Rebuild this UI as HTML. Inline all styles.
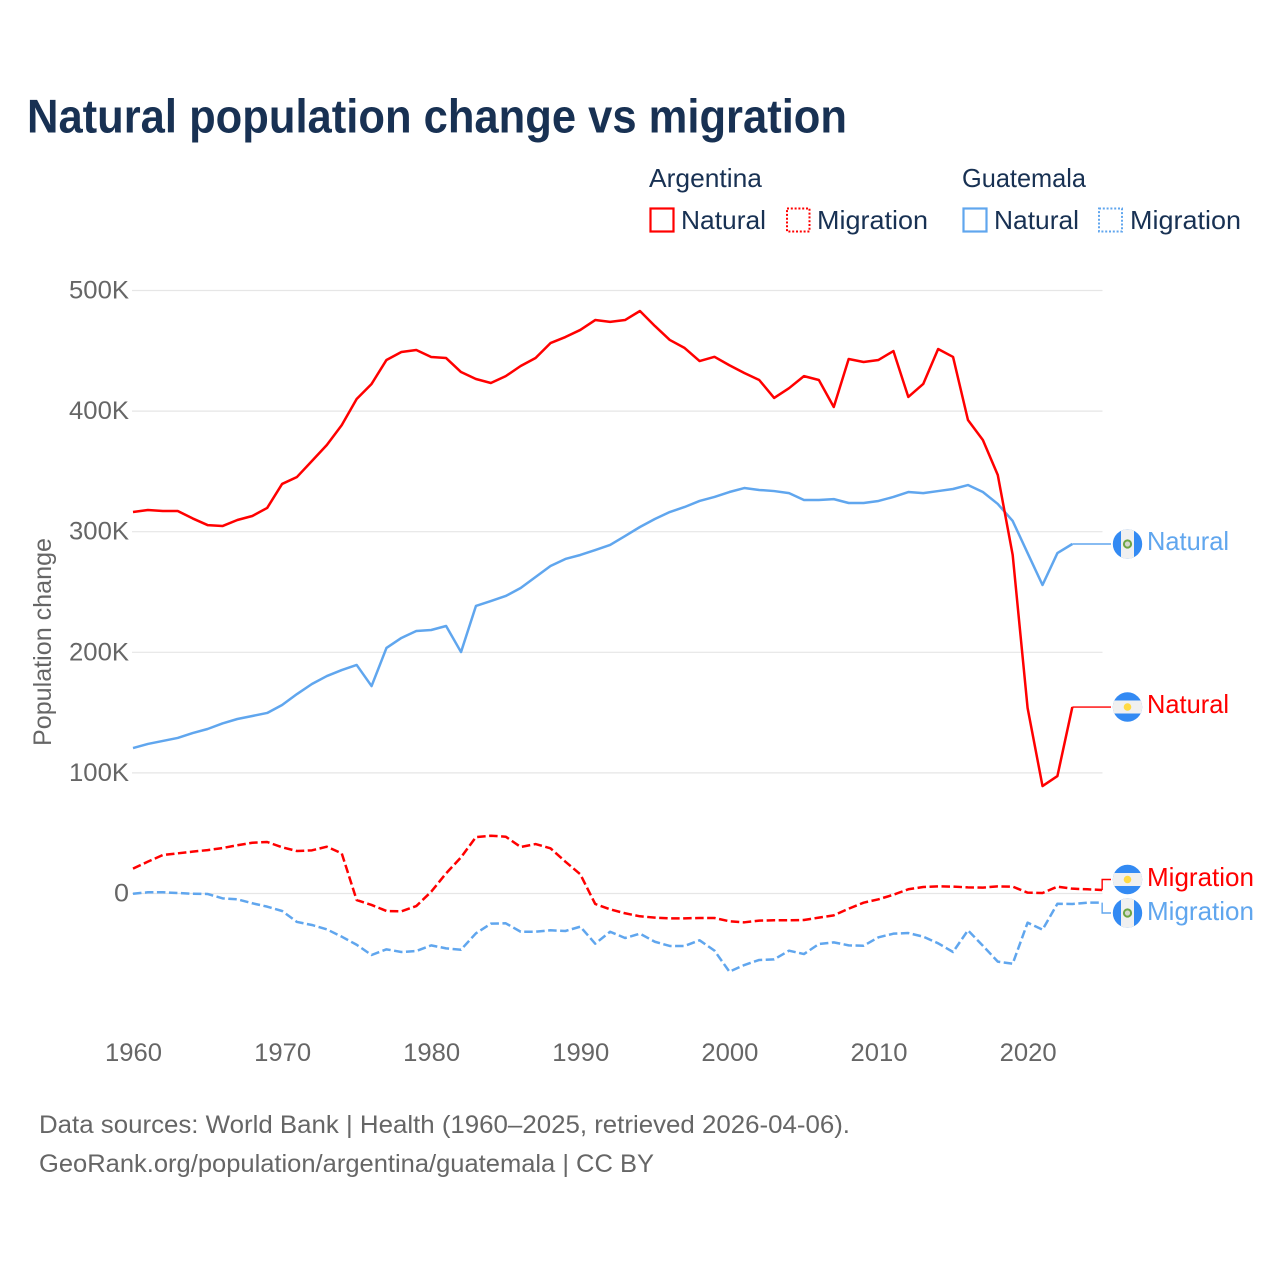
<!DOCTYPE html>
<html lang="en">
<head>
<meta charset="utf-8">
<title>Natural population change vs migration</title>
<style>
html,body{margin:0;padding:0;background:#fff;width:1280px;height:1280px;overflow:hidden}
svg{display:block;font-family:"Liberation Sans",sans-serif}
</style>
</head>
<body>
<svg id="chart" xmlns="http://www.w3.org/2000/svg" width="1280" height="1280" viewBox="0 0 1280 1280">
  <defs>
    <clipPath id="flag-clip"><circle r="14.7"/></clipPath>
  </defs>
  <rect width="1280" height="1280" fill="#fff"/>
  <text x="27" y="132.5" font-size="47" font-weight="700" fill="#183153" textLength="820" lengthAdjust="spacingAndGlyphs">Natural population change vs migration</text>

  <g font-size="26" fill="#183153">
    <text x="649" y="187" textLength="113" lengthAdjust="spacingAndGlyphs">Argentina</text>
    <text x="962" y="187" textLength="124" lengthAdjust="spacingAndGlyphs">Guatemala</text>
    <g>
      <rect x="650.5" y="208.5" width="23" height="23" fill="none" stroke="#ff0000" stroke-width="2.2"/>
      <text x="681" y="229" textLength="85" lengthAdjust="spacingAndGlyphs">Natural</text>
    </g>
    <g>
      <rect x="787" y="208.5" width="22.5" height="23" fill="none" stroke="#ff0000" stroke-width="2" stroke-dasharray="2 1.8"/>
      <text x="817" y="229" textLength="111" lengthAdjust="spacingAndGlyphs">Migration</text>
    </g>
    <g>
      <rect x="963.5" y="208.5" width="23" height="23" fill="none" stroke="#60a6ee" stroke-width="2.2"/>
      <text x="994" y="229" textLength="85" lengthAdjust="spacingAndGlyphs">Natural</text>
    </g>
    <g>
      <rect x="1099" y="208.5" width="23" height="23" fill="none" stroke="#60a6ee" stroke-width="2" stroke-dasharray="2 1.8"/>
      <text x="1130" y="229" textLength="111" lengthAdjust="spacingAndGlyphs">Migration</text>
    </g>
  </g>

  <g id="grid"></g>
  <g id="yticks" font-size="25" fill="#666"></g>
  <g id="xticks" font-size="25" fill="#666"></g>
  <text transform="translate(51,746) rotate(-90)" font-size="25" fill="#666" textLength="208" lengthAdjust="spacingAndGlyphs">Population change</text>

  <g id="series"></g>

  <g transform="translate(1127.5,544)">
    <circle r="14.7" fill="#338af3"/>
    <rect x="-6.5" y="-15" width="13" height="30" fill="#f0f0f0" clip-path="url(#flag-clip)"/>
    <circle r="3.6" fill="#d5d8cc" stroke="#6da544" stroke-width="2"/>
  </g>
  <g transform="translate(1127.5,707)">
    <circle r="14.7" fill="#338af3"/>
    <rect x="-15" y="-6.5" width="30" height="13" fill="#f0f0f0" clip-path="url(#flag-clip)"/>
    <circle r="3.8" fill="#ffda44"/>
  </g>
  <g transform="translate(1127.5,879.5)">
    <circle r="14.7" fill="#338af3"/>
    <rect x="-15" y="-6.5" width="30" height="13" fill="#f0f0f0" clip-path="url(#flag-clip)"/>
    <circle r="3.8" fill="#ffda44"/>
  </g>
  <g transform="translate(1127.5,913)">
    <circle r="14.7" fill="#338af3"/>
    <rect x="-6.5" y="-15" width="13" height="30" fill="#f0f0f0" clip-path="url(#flag-clip)"/>
    <circle r="3.6" fill="#d5d8cc" stroke="#6da544" stroke-width="2"/>
  </g>

  <g font-size="26">
    <text x="1147" y="550" fill="#60a6ee" textLength="82" lengthAdjust="spacingAndGlyphs">Natural</text>
    <text x="1147" y="713" fill="#ff0000" textLength="82" lengthAdjust="spacingAndGlyphs">Natural</text>
    <text x="1147" y="886" fill="#ff0000" textLength="107" lengthAdjust="spacingAndGlyphs">Migration</text>
    <text x="1147" y="920" fill="#60a6ee" textLength="107" lengthAdjust="spacingAndGlyphs">Migration</text>
  </g>

  <g font-size="25" fill="#666">
    <text x="39" y="1133" textLength="811" lengthAdjust="spacingAndGlyphs">Data sources: World Bank | Health (1960–2025, retrieved 2026-04-06).</text>
    <text x="39" y="1172" textLength="615" lengthAdjust="spacingAndGlyphs">GeoRank.org/population/argentina/guatemala | CC BY</text>
  </g>
</svg>
<script>
const years = [1960,1961,1962,1963,1964,1965,1966,1967,1968,1969,1970,1971,1972,1973,1974,1975,1976,1977,1978,1979,1980,1981,1982,1983,1984,1985,1986,1987,1988,1989,1990,1991,1992,1993,1994,1995,1996,1997,1998,1999,2000,2001,2002,2003,2004,2005,2006,2007,2008,2009,2010,2011,2012,2013,2014,2015,2016,2017,2018,2019,2020,2021,2022,2023,2024,2025];
const argentinaNatural = [316.3,318,317.2,317.2,311,305.5,304.7,309.7,313,319.7,339.6,345.4,358.6,371.9,388.4,410,422.5,442.4,449,450.7,444.9,444,432.4,426.6,423.3,429,437.4,444,456.4,461.4,467.3,475.5,474,475.5,483,470.6,459,452.3,441.5,445,438,431.6,425.8,410.9,419,429,425.8,403.4,443.2,440.7,442.4,449.8,411.7,422.5,451.5,444.9,392.6,376,347,280.7,153.8,89.1,97.4,154.6];
const guatemalaNatural = [120.6,124,126.5,129,133,136.4,141,144.7,147.2,149.7,156.3,165.4,173.7,180.3,185.3,189.5,172,203.6,211.9,217.7,218.5,221.8,200.2,238.4,242.5,246.7,253.3,262.4,271.6,277.4,280.7,284.8,289,296.4,303.9,310.5,316.3,320.5,325.5,328.8,332.9,336.2,334.6,333.7,332,326.3,326.3,327,323.8,323.8,325.5,328.8,332.9,332,333.7,335.4,338.7,332.9,323,308.9,282.3,255.8,282.3,289.8];
const argentinaMigration = [20.6,26.4,31.9,33.3,34.7,36,37.7,40,42.1,42.7,38.3,35.2,35.8,38.8,33.3,-5.4,-9.5,-14.5,-14.8,-10.4,1.5,16.7,30,46.8,47.9,47.1,38.6,41,37.5,26.4,15.9,-8.7,-13.1,-16.4,-18.9,-20,-20.6,-20.6,-20.3,-20.3,-23,-23.9,-22.5,-22.2,-22.2,-22,-20,-18.1,-12.6,-7.6,-4.8,-1,3.5,5.4,5.9,5.7,5.1,4.9,5.9,5.7,0.7,0.4,5.7,4,3.5,2.9];
const guatemalaMigration = [-0.2,1,1,0.4,-0.2,-0.4,-4,-4.8,-8.1,-10.9,-14.5,-23.6,-26.1,-29.7,-35.8,-42.5,-51,-46.3,-48.5,-47.7,-43,-45.5,-46.6,-33,-25,-24.7,-31.7,-31.7,-30.5,-31.1,-27.5,-41.6,-31.7,-36.9,-33.3,-40,-43.5,-43.5,-38.8,-47.4,-64.8,-59.3,-55.1,-54.6,-47.4,-50.2,-41.9,-40.5,-43,-43.3,-36.3,-33.3,-32.8,-35.8,-41.3,-48.5,-30.5,-43.3,-56.5,-58.2,-24.2,-30,-8.5,-8.7,-7.6,-7.6];
const yTickValues = [0,100,200,300,400,500];
const yTickLabels = ["0","100K","200K","300K","400K","500K"];
const xTickValues = [1960,1970,1980,1990,2000,2010,2020];
const xTickLabels = ["1960","1970","1980","1990","2000","2010","2020"];

const NS = 'http://www.w3.org/2000/svg';
const RED = '#ff0000';
const BLUE = '#60a6ee';
function xScale(year){ return 133 + (year - 1960) * 14.91; }
function yScale(v){ return 893.5 - v * 1.206; }
function make(tag, attrs, parent){
  const el = document.createElementNS(NS, tag);
  for (const k in attrs) el.setAttribute(k, attrs[k]);
  parent.appendChild(el);
  return el;
}

const grid = document.getElementById('grid');
const yticks = document.getElementById('yticks');
const xticks = document.getElementById('xticks');
const series = document.getElementById('series');

yTickValues.forEach(function(v, i){
  const line = make('line', {x1:132, x2:1102.5, y1:yScale(v), y2:yScale(v), stroke:'#e6e6e6', 'stroke-width':1.2}, grid);
  
  
  const label = make('text', {x:129, y:yScale(v) + 8, 'text-anchor':'end', textLength: yTickLabels[i].length === 1 ? 15 : 60, lengthAdjust:'spacingAndGlyphs'}, yticks);
  
  
  label.textContent = yTickLabels[i];
});

xTickValues.forEach(function(year, i){
  const label = make('text', {x:xScale(year) + 0.5, y:1061, 'text-anchor':'middle', textLength:57, lengthAdjust:'spacingAndGlyphs'}, xticks);
  
  
  label.textContent = xTickLabels[i];
});

function pathFor(values){
  return values.map(function(v, i){
    return (i ? 'L' : 'M') + xScale(years[i]).toFixed(2) + ' ' + yScale(v).toFixed(2);
  }).join('');
}
function connector(values, labelY, color){
  const i = values.length - 1;
  const x = xScale(years[i]);
  const y = yScale(values[i]);
  const d = 'M' + x.toFixed(2) + ' ' + y.toFixed(2) + 'L' + (x < 1100 ? '' : x.toFixed(2) + ' ' + labelY + 'L') + '1111 ' + labelY;
  return make('path', {d:d, fill:'none', stroke:color, 'stroke-width':1.4}, series);
}

const c1 = connector(guatemalaNatural, yScale(guatemalaNatural[guatemalaNatural.length - 1]), BLUE);


const c2 = connector(argentinaNatural, yScale(argentinaNatural[argentinaNatural.length - 1]), RED);


const c3 = connector(argentinaMigration, 879.5, RED);


const c4 = connector(guatemalaMigration, 913, BLUE);



const lineAttrs = {fill:'none', 'stroke-width':2.5, 'stroke-linejoin':'round'};
const s1 = make('path', Object.assign({d:pathFor(guatemalaMigration), stroke:BLUE, 'stroke-dasharray':'8.5 3.5'}, lineAttrs), series);


const s2 = make('path', Object.assign({d:pathFor(argentinaMigration), stroke:RED, 'stroke-dasharray':'8.5 3.5'}, lineAttrs), series);


const s3 = make('path', Object.assign({d:pathFor(guatemalaNatural), stroke:BLUE}, lineAttrs), series);


const s4 = make('path', Object.assign({d:pathFor(argentinaNatural), stroke:RED}, lineAttrs), series);


</script>
</body>
</html>
